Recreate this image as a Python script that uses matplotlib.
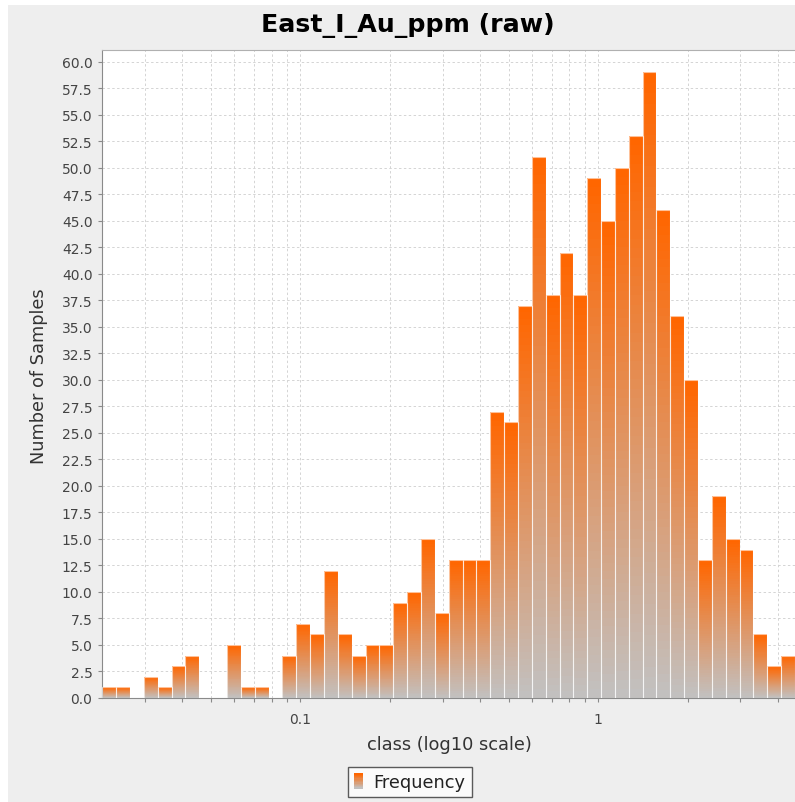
import numpy as np
import matplotlib
matplotlib.use("Agg")
import matplotlib.pyplot as plt
from matplotlib.colors import LinearSegmentedColormap
from matplotlib.legend_handler import HandlerBase
from matplotlib.patches import Rectangle
from matplotlib.ticker import FixedLocator, NullFormatter, FuncFormatter

# ===============================
# Data
# ===============================
TITLE = "East_I_Au_ppm (raw)"
X_LABEL = "class (log10 scale)"
Y_LABEL = "Number of Samples"
SERIES_NAME = "Frequency"

# histogram counts, 50 equal bins in log10 space
counts = [
    1, 1, 0, 2, 1, 3, 4, 0, 0, 5,
    1, 1, 0, 4, 7, 6, 12, 6, 4, 5,
    5, 9, 10, 15, 8, 13, 13, 13, 27, 26,
    37, 51, 38, 42, 38, 49, 45, 50, 53, 59,
    46, 36, 30, 13, 19, 15, 14, 6, 3, 4,
]
LOG_MIN = -1.6651   # log10 of the smallest class edge
LOG_MAX = 0.6604    # log10 of the largest class edge

major_ticks = [0.1, 1]
minor_ticks = [0.03, 0.04, 0.05, 0.06, 0.07, 0.08, 0.09,
               0.2, 0.3, 0.4, 0.5, 0.6, 0.7, 0.8, 0.9,
               2, 3, 4]
y_ticks = np.arange(0, 60.1, 2.5)

# ===============================
# Style
# ===============================
W, H = 795, 803
DPI = 100
BG = "#eeeeee"
TOP_COL = "#ff6600"
BOT_COL = "#c2c0bf"
N_SLICES = 60

grad = LinearSegmentedColormap.from_list("bar_grad", [BOT_COL, TOP_COL])

plt.rcParams["font.family"] = ["DejaVu Sans"]


class GradientHandler(HandlerBase):
    def create_artists(self, legend, orig_handle, xdescent, ydescent,
                       width, height, fontsize, trans):
        arts = []
        n = 12
        w = width * 0.55
        x0 = -xdescent
        h = height * 1.25
        y0 = -ydescent - (h - height) / 2
        for k in range(n):
            r = Rectangle((x0, y0 + h * k / n), w, h / n + 0.2,
                          facecolor=grad(k / (n - 1)), linewidth=0,
                          transform=trans)
            arts.append(r)
        return arts


def main():
    fig = plt.figure(figsize=(W / DPI, H / DPI), dpi=DPI, facecolor="white")
    # gray panel (white strip on top and left)
    fig.patches.append(Rectangle((8 / W, 0), 1, 1 - 6 / H,
                                 transform=fig.transFigure,
                                 facecolor=BG, edgecolor="none", zorder=-10))

    left, top, bottom = 101.5, 51, 699
    ax = fig.add_axes([left / W, 1 - bottom / H, 1 - left / W, (bottom - top) / H])
    ax.set_facecolor("white")

    vals = np.array(counts, dtype=float)
    edges = np.logspace(LOG_MIN, LOG_MAX, len(counts) + 1)
    lefts = edges[:-1]
    widths = np.diff(edges)

    for k in range(N_SLICES):
        ax.bar(lefts, vals / N_SLICES, bottom=vals * k / N_SLICES,
               width=widths, align="edge",
               color=grad(k / (N_SLICES - 1)), linewidth=0,
               antialiased=False, zorder=2)
    ax.bar(lefts, vals, width=widths, align="edge", fill=False,
           edgecolor=(1, 1, 1, 0.6), linewidth=0.8, zorder=3)

    ax.set_xscale("log")
    ax.set_xlim(10 ** -1.668, 10 ** LOG_MAX)
    ax.set_ylim(0, 61.1)

    ax.xaxis.set_major_locator(FixedLocator(major_ticks))
    ax.xaxis.set_minor_locator(FixedLocator(minor_ticks))
    ax.xaxis.set_major_formatter(FuncFormatter(lambda v, p: f"{v:g}"))
    ax.xaxis.set_minor_formatter(NullFormatter())
    ax.yaxis.set_major_locator(FixedLocator(y_ticks))
    ax.yaxis.set_major_formatter(FuncFormatter(lambda v, p: f"{v:.1f}"))

    ax.grid(True, which="both", color="#d4d4d4", linestyle=(0, (2.5, 2.5)),
            linewidth=0.7, zorder=0)
    ax.set_axisbelow(True)

    ax.spines["right"].set_visible(False)
    ax.spines["left"].set_color("#8a8a8a")
    ax.spines["bottom"].set_color("#8a8a8a")
    ax.spines["top"].set_color("#b0b0b0")
    ax.spines["top"].set_linewidth(0.8)

    ax.tick_params(axis="both", which="both", colors="#8a8a8a",
                   labelcolor="#444444", labelsize=10, length=3, width=0.8)
    ax.tick_params(axis="x", which="major", pad=7)

    fig.text(408 / W, 1 - 26 / H, TITLE, ha="center", va="center",
             fontsize=18.2, fontweight="bold", color="black")
    fig.text(449 / W, 1 - 745 / H, X_LABEL, ha="center", va="center",
             fontsize=12.8, color="#333333")
    fig.text(39 / W, 1 - 376 / H, Y_LABEL, ha="center", va="center",
             rotation=90, fontsize=12.8, color="#333333")

    handle = Rectangle((0, 0), 1, 1)
    leg = fig.legend([handle], [SERIES_NAME], loc="upper center",
                     bbox_to_anchor=(409.5 / W, 1 - 768 / H),
                     handler_map={Rectangle: GradientHandler()},
                     fontsize=12.8, frameon=True, fancybox=False,
                     handlelength=0.9, handletextpad=0.2, borderpad=0.35,
                     borderaxespad=0)
    leg.get_frame().set_edgecolor("#333333")
    leg.get_frame().set_linewidth(1.0)
    for t in leg.get_texts():
        t.set_color("#222222")

    fig.savefig("out.png", dpi=DPI, facecolor=fig.get_facecolor())


if __name__ == "__main__":
    main()
